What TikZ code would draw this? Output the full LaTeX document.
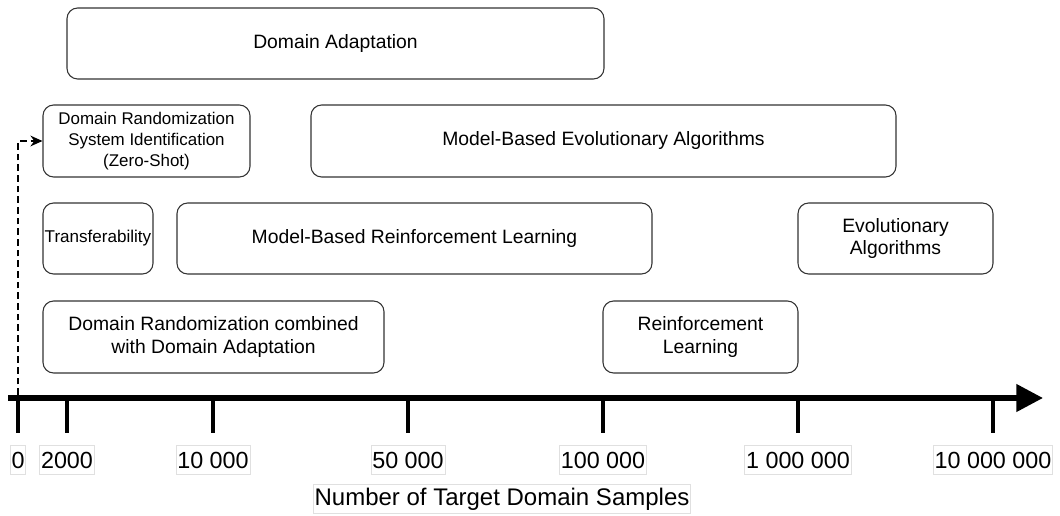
\documentclass[tikz,border=0pt]{standalone}
\usepackage{fontspec}
\setmainfont{Liberation Sans}
\usetikzlibrary{arrows.meta}
\begin{document}
\begin{tikzpicture}[x=0.75pt,y=-0.75pt,
  band/.style={draw=black!80,line width=0.8pt,rounded corners=8pt,align=center,
    inner sep=0pt,font=\fontsize{14.5}{17}\selectfont},
  size/.style 2 args={minimum width=#1*0.75pt,minimum height=#2*0.75pt},
  ticklbl/.style={draw=black!12,line width=0.5pt,inner xsep=1pt,inner ysep=0pt,
    minimum height=22pt,font=\fontsize{17.5}{20}\selectfont},
  tickmark/.style={line width=3pt}]
\useasboundingbox (0,0) rectangle (1060,516);
% method bands, sized by their ranges on the sample axis
\node[band,size={537}{71}] (da) at (335.5,43.5) {Domain Adaptation};
\node[band,size={207}{72},font=\fontsize{12.7}{15.5}\selectfont] (drsi) at (146.5,141) {Domain Randomization\\System Identification\\(Zero-Shot)};
\node[band,size={585}{72}] (mbea) at (603.5,141) {Model-Based Evolutionary Algorithms};
\node[band,size={110}{71},font=\fontsize{12.8}{15}\selectfont] (tr) at (98,238.5) {Transferability};
\node[band,size={475}{71}] (mbrl) at (414.5,238.5) {Model-Based Reinforcement Learning};
\node[band,size={195}{71}] (ea) at (895.5,238.5) {Evolutionary\\Algorithms};
\node[band,size={341}{72}] (drda) at (213.5,337) {Domain Randomization combined\\with Domain Adaptation};
\node[band,size={195}{72}] (rl) at (700.5,337) {Reinforcement\\Learning};
% sample axis
\coordinate (axs) at (8,398);
\coordinate (axe) at (1043,398);
\draw[line width=4pt,-{Triangle[length=20pt,width=20pt]}] (axs) -- (axe);
\foreach \n/\x/\t in {t0/18/0,t1/67/2000,t2/213/10 000,t3/408/50 000,t4/603/100 000,t5/798/1 000 000,t6/993/10 000 000}{
  \coordinate (\n) at (\x,398);
  \draw[tickmark] (\n) -- ++(0,35);
  \node[ticklbl] (\n l) at (\x,460) {\t};
}
\node[ticklbl,font=\fontsize{18}{21}\selectfont] (title) at (502,499) {Number of Target Domain Samples};
% zero-shot pointer
\coordinate (zs) at (18,395);
\draw[line width=1.6pt,dash pattern=on 5pt off 3pt,-{Stealth[length=9pt,width=8pt]}] (zs) -- (zs |- drsi.west) -- (drsi.west);
\end{tikzpicture}
\end{document}
